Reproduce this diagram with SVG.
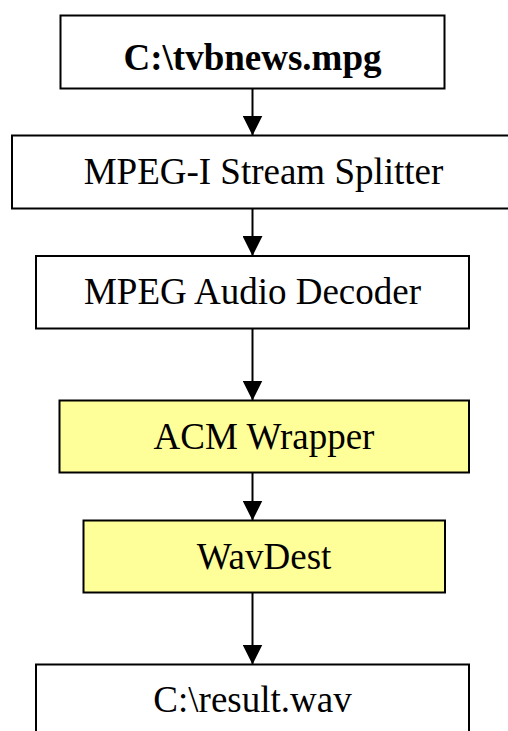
<svg xmlns="http://www.w3.org/2000/svg" width="508" height="731" viewBox="0 0 508 731">
  <style>
    .box { fill: #ffffff; stroke: #000000; stroke-width: 2; }
    .hl { fill: #ffff99; }
    .lbl { font-family: "Liberation Serif", "Times New Roman", serif; font-size: 37px; fill: #000000; text-anchor: middle; }
    .bold { font-weight: bold; }
    .edge { stroke: #000000; stroke-width: 2; fill: none; marker-end: url(#head); }
  </style>
  <defs>
    <marker id="head" markerUnits="userSpaceOnUse" markerWidth="20" markerHeight="20" refX="20" refY="10" orient="auto">
      <path d="M0,0 L20,10 L0,20 Z" fill="#000000"/>
    </marker>
  </defs>
  <rect width="508" height="731" fill="#ffffff"/>

  <g id="connectors">
    <line class="edge" x1="252.5" y1="88.5" x2="252.5" y2="135.5"/>
    <line class="edge" x1="252.5" y1="208.5" x2="252.5" y2="256"/>
    <line class="edge" x1="252.5" y1="328.5" x2="252.5" y2="400.5"/>
    <line class="edge" x1="252.5" y1="472.5" x2="252.5" y2="520.5"/>
    <line class="edge" x1="252.5" y1="592.5" x2="252.5" y2="664.5"/>
  </g>

  <g id="source">
    <rect class="box" x="60.5" y="15.5" width="384" height="73"/>
    <text class="lbl bold" x="252.5" y="69.5">C:\tvbnews.mpg</text>
  </g>

  <g id="splitter">
    <rect class="box" x="12" y="135.5" width="510" height="73"/>
    <text class="lbl" x="263.5" y="183.5">MPEG-I Stream Splitter</text>
  </g>

  <g id="decoder">
    <rect class="box" x="36" y="256" width="433" height="72.5"/>
    <text class="lbl" x="252.5" y="303.5">MPEG Audio Decoder</text>
  </g>

  <g id="acm">
    <rect class="box hl" x="59.5" y="400.5" width="409.5" height="72"/>
    <text class="lbl" x="264" y="448.5">ACM Wrapper</text>
  </g>

  <g id="wavdest">
    <rect class="box hl" x="83.5" y="520.5" width="361.5" height="72"/>
    <text class="lbl" x="264" y="568.5">WavDest</text>
  </g>

  <g id="result">
    <rect class="box" x="36" y="664.5" width="433" height="80"/>
    <text class="lbl" x="252.5" y="712">C:\result.wav</text>
  </g>
</svg>
